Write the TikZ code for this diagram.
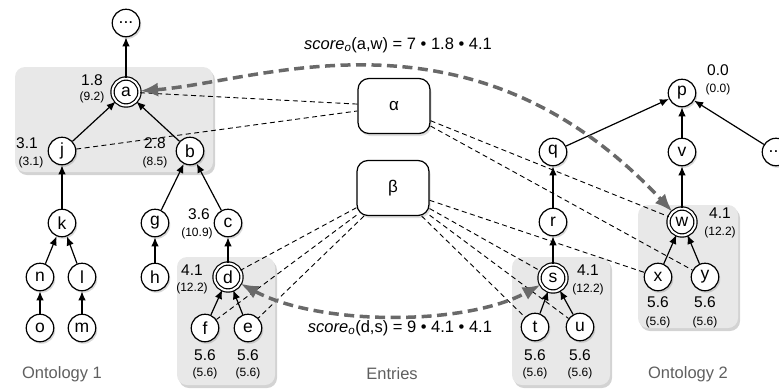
\documentclass[tikz,border=0pt]{standalone}
\usepackage{fontspec}
\setmainfont{Liberation Sans}
\usetikzlibrary{arrows.meta,shadows}
\definecolor{boxgray}{RGB}{232,232,232}
\definecolor{matchgray}{RGB}{105,105,105}
\definecolor{labelgray}{RGB}{95,95,95}
\tikzset{
	concept/.style={circle,draw,line width=1.2pt,fill=white,minimum size=27.5pt,inner sep=0pt,
		font=\fontsize{17.5}{17.5}\selectfont,drop shadow={opacity=0.3,shadow xshift=1.5pt,shadow yshift=-2pt}},
	anchorconcept/.style={concept,double,double distance=2pt,minimum size=27pt},
	entrybox/.style={rectangle,rounded corners=11pt,draw,line width=1.2pt,fill=white,
		minimum width=72pt,minimum height=55pt,font=\fontsize{17}{17}\selectfont,
		drop shadow={opacity=0.25,shadow xshift=1.5pt,shadow yshift=-2.5pt}},
	regionbox/.style={fill=boxgray,rounded corners=10pt,drop shadow={opacity=0.35,shadow xshift=2pt,shadow yshift=-3pt}},
	subclass/.style={-{Latex[length=9pt,width=7.5pt]},line width=1.2pt},
	alignlink/.style={line width=0.9pt,dash pattern=on 5pt off 3.5pt},
	matcharrow/.style={{Latex[length=18pt,width=14pt]}-{Latex[length=18pt,width=14pt]},draw=matchgray,
		line width=3.5pt,dash pattern=on 10pt off 5.5pt},
	bigval/.style={font=\fontsize{15.5}{15.5}\selectfont,inner sep=0pt},
	smallval/.style={font=\fontsize{12}{12}\selectfont,inner sep=0pt},
	ontlabel/.style={font=\fontsize{16.5}{16.5}\selectfont,text=labelgray,inner sep=0pt},
	formula/.style={font=\fontsize{16.5}{16.5}\selectfont,inner sep=0pt}
}
\begin{document}
\begin{tikzpicture}[x=1pt,y=-1pt]
	%\draw [help lines] (0,0) grid[step=50] (779,389);
	\useasboundingbox (0,0) rectangle (779,389);
	% grey regions
	\fill[regionbox] (15,67) rectangle (213,172);
	\fill[regionbox] (177,257) rectangle (275,385);
	\fill[regionbox] (512,257) rectangle (610,385);
	\fill[regionbox] (638,205) rectangle (738,328);
	% ontology 1
	\node[concept] (top) at (126,23) {...};
	\node[anchorconcept] (a) at (126,92) {a};
	\node[concept] (j) at (62,151) {j};
	\node[concept] (b) at (190,151) {b};
	\node[concept] (k) at (62,223) {k};
	\node[concept] (g) at (155,223) {g};
	\node[concept] (c) at (228,223) {c};
	\node[concept] (n) at (40,277) {n};
	\node[concept] (l) at (82,277) {l};
	\node[concept] (h) at (155,277) {h};
	\node[anchorconcept] (d) at (228,277) {d};
	\node[concept] (o) at (40,328) {o};
	\node[concept] (m) at (82,328) {m};
	\node[concept] (f) at (205,328) {f};
	\node[concept] (e) at (248,328) {e};
	% ontology 2
	\node[concept] (p) at (682,93) {p};
	\node[concept] (q) at (553,152) {q};
	\node[concept] (v) at (682,152) {v};
	\node[concept] (more) at (776,152) {...};
	\node[concept] (r) at (553,222) {r};
	\node[anchorconcept] (w) at (682,222) {w};
	\node[anchorconcept] (s) at (553,278) {s};
	\node[concept] (x) at (658,277) {x};
	\node[concept] (y) at (705,277) {y};
	\node[concept] (t) at (535,327) {t};
	\node[concept] (u) at (580,327) {u};
	% entries
	\node[entrybox] (alpha) at (394,106) {α};
	\node[entrybox] (beta) at (393,188) {β};
	% values
	\node[bigval] (a-v) at (92,80) {1.8};
	\node[smallval] (a-w) at (92,97) {(9.2)};
	\node[bigval] (j-v) at (27,143) {3.1};
	\node[smallval] (j-w) at (31,162) {(3.1)};
	\node[bigval] (b-v) at (155,143) {2.8};
	\node[smallval] (b-w) at (155,162) {(8.5)};
	\node[bigval] (c-v) at (199,214) {3.6};
	\node[smallval] (c-w) at (197,233) {(10.9)};
	\node[bigval] (d-v) at (192,270) {4.1};
	\node[smallval] (d-w) at (192,288) {(12.2)};
	\node[bigval] (f-v) at (205,355) {5.6};
	\node[smallval] (f-w) at (205,373) {(5.6)};
	\node[bigval] (e-v) at (248,355) {5.6};
	\node[smallval] (e-w) at (248,373) {(5.6)};
	\node[bigval] (p-v) at (718,70) {0.0};
	\node[smallval] (p-w) at (718,89) {(0.0)};
	\node[bigval] (w-v) at (720,213) {4.1};
	\node[smallval] (w-w) at (720,232) {(12.2)};
	\node[bigval] (s-v) at (588,270) {4.1};
	\node[smallval] (s-w) at (588,289) {(12.2)};
	\node[bigval] (x-v) at (658,302) {5.6};
	\node[smallval] (x-w) at (658,322) {(5.6)};
	\node[bigval] (y-v) at (705,302) {5.6};
	\node[smallval] (y-w) at (705,322) {(5.6)};
	\node[bigval] (t-v) at (535,355) {5.6};
	\node[smallval] (t-w) at (535,373) {(5.6)};
	\node[bigval] (u-v) at (580,355) {5.6};
	\node[smallval] (u-w) at (580,373) {(5.6)};
	% captions
	\node[ontlabel] (ont1) at (62,374) {Ontology 1};
	\node[ontlabel] (ent) at (392,374) {Entries};
	\node[ontlabel] (ont2) at (688,374) {Ontology 2};
	\node[formula] (score1) at (398,45) {{\itshape score\textsubscript{o}}(a,w) = 7 • 1.8 • 4.1};
	\node[formula] (score2) at (400,328) {{\itshape score\textsubscript{o}}(d,s) = 9 • 4.1 • 4.1};
	% subclass edges
	\draw[subclass] (a) -- (top);
	\draw[subclass] (j) -- (a);
	\draw[subclass] (b) -- (a);
	\draw[subclass] (k) -- (j);
	\draw[subclass] (g) -- (b);
	\draw[subclass] (c) -- (b);
	\draw[subclass] (n) -- (k);
	\draw[subclass] (l) -- (k);
	\draw[subclass] (o) -- (n);
	\draw[subclass] (m) -- (l);
	\draw[subclass] (h) -- (g);
	\draw[subclass] (d) -- (c);
	\draw[subclass] (f) -- (d);
	\draw[subclass] (e) -- (d);
	\draw[subclass] (q) -- (p);
	\draw[subclass] (v) -- (p);
	\draw[subclass] (more) -- (p);
	\draw[subclass] (r) -- (q);
	\draw[subclass] (s) -- (r);
	\draw[subclass] (t) -- (s);
	\draw[subclass] (u) -- (s);
	\draw[subclass] (w) -- (v);
	\draw[subclass] (x) -- (w);
	\draw[subclass] (y) -- (w);
	% entry links
	\draw[alignlink] (a) -- (alpha);
	\draw[alignlink] (j) -- (alpha);
	\draw[alignlink] (alpha) -- (w);
	\draw[alignlink] (alpha) -- (y);
	\draw[alignlink] (beta) -- (d);
	\draw[alignlink] (beta) -- (f);
	\draw[alignlink] (beta) -- (e);
	\draw[alignlink] (beta) -- (x);
	\draw[alignlink] (beta) -- (s);
	\draw[alignlink] (beta) -- (u);
	\draw[alignlink] (beta) -- (t);
	% matches
	\draw[matcharrow] (a) .. controls (260,82) and (470,-5) .. (w);
	\draw[matcharrow] (d) .. controls (320,326) and (465,326) .. (s);
\end{tikzpicture}
\end{document}
